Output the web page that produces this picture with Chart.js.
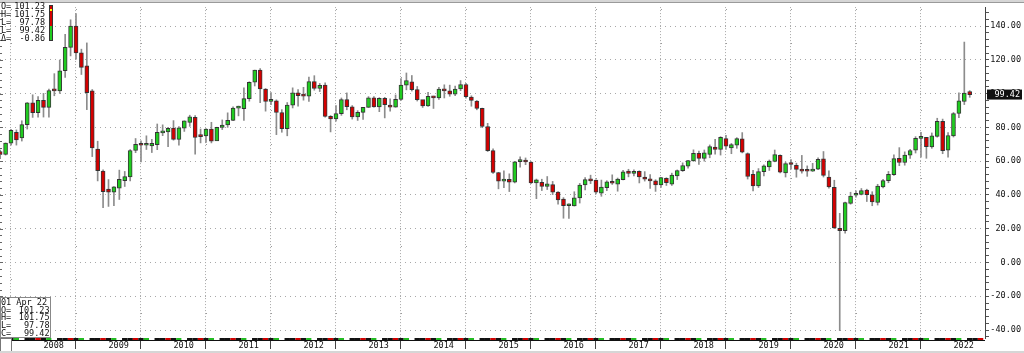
<!DOCTYPE html>
<html>
<head>
<meta charset="utf-8">
<title>Crude Oil Monthly</title>
<script src="https://cdn.jsdelivr.net/npm/chart.js@4/dist/chart.umd.min.js"></script>
<style>
    html, body { margin: 0; padding: 0; background: #fff; }
    #wrap { position: relative; width: 1024px; height: 353px; }
</style>
</head>
<body>
<div id="wrap"><canvas id="oilChart" width="1024" height="353"></canvas></div>
<script>
// monthly bars, first one is May 2007, last one Apr 2022
const startYear = 2007;
const startMonth = 4; // May (0-based)

const opens = [
    65.7, 64.0, 70.7, 77.0, 73.8, 81.6, 94.5, 88.7,
    96.0, 91.8, 102.2, 101.6, 113.5, 127.4, 140.0, 124.1, 116.5, 101.6, 67.2, 54.1,
    43.5, 41.7, 44.0, 48.5, 50.6, 66.3, 70.2, 69.4, 69.0, 69.8, 76.7, 77.3,
    79.6, 72.9, 79.5, 83.0, 86.0, 75.5, 74.9, 79.0, 72.0, 79.9, 81.4, 84.1,
    91.4, 91.0, 97.0, 106.7, 113.9, 102.7, 95.4, 95.7, 88.8, 79.2, 93.2, 100.4,
    99.5, 98.5, 107.1, 103.0, 105.0, 86.5, 85.0, 88.1, 96.5, 92.2, 86.2, 88.9,
    91.8, 97.5, 92.1, 97.2, 93.0, 92.0, 96.6, 105.0, 107.0, 102.3, 96.4, 92.7,
    98.4, 97.5, 102.6, 101.6, 99.7, 102.7, 105.4, 98.0, 95.5, 91.2, 80.5, 66.2,
    53.3, 48.2, 49.3, 47.6, 59.7, 60.3, 59.5, 47.1, 47.5, 45.1, 46.1, 41.7,
    37.5, 33.6, 33.5, 38.3, 45.9, 48.9, 48.8, 41.0, 44.3, 47.8, 46.3, 49.0,
    54.1, 52.8, 54.0, 50.6, 48.8, 48.3, 46.0, 49.8, 46.3, 51.2, 54.4, 57.0,
    60.2, 64.7, 61.6, 64.0, 68.4, 67.0, 73.3, 67.8, 69.4, 73.2, 64.5, 52.2,
    45.4, 53.8, 56.6, 59.8, 63.5, 53.1, 59.0, 57.5, 54.7, 54.3, 54.1, 55.2,
    61.4, 50.6, 44.5, 20.2, 18.8, 35.0, 39.8, 40.3, 42.8, 40.0, 35.5, 44.7,
    48.4, 52.0, 61.6, 59.2, 63.6, 66.5, 73.5, 74.1, 68.4, 74.7, 83.5, 66.5,
    75.0, 88.2, 95.3, 101.23
];
const highs = [
    66.5, 70.8, 78.8, 78.5, 83.9, 94.7, 99.3, 98.2,
    100.1, 102.6, 111.8, 119.9, 135.1, 143.7, 147.3, 126.3, 130.0, 102.4, 71.8, 54.8,
    49.1, 44.9, 54.7, 53.9, 66.9, 73.4, 72.0, 75.0, 72.9, 82.0, 81.5, 80.0,
    84.0, 80.5, 83.9, 87.2, 87.0, 79.0, 79.3, 83.0, 80.1, 84.4, 88.6, 92.1,
    92.6, 103.4, 107.0, 113.9, 114.8, 103.0, 100.6, 96.3, 90.5, 94.7, 103.4, 102.4,
    103.7, 109.8, 110.6, 106.0, 106.4, 87.0, 92.9, 97.4, 100.4, 92.9, 89.9, 91.9,
    98.2, 98.2, 97.6, 97.8, 96.9, 99.2, 108.9, 112.2, 110.7, 104.2, 96.0, 100.8,
    98.5, 103.7, 105.2, 105.0, 104.5, 107.7, 106.0, 98.7, 95.9, 91.4, 82.4, 67.3,
    53.4, 54.2, 52.5, 59.9, 62.6, 61.9, 59.8, 49.4, 49.3, 50.9, 48.0, 42.0,
    38.4, 34.7, 41.9, 46.8, 50.2, 51.7, 49.0, 48.8, 48.4, 51.9, 50.0, 54.5,
    55.2, 54.9, 54.3, 53.8, 52.0, 49.0, 50.4, 50.2, 52.9, 54.8, 59.0, 60.5,
    66.7, 66.0, 66.6, 69.6, 72.9, 74.5, 75.3, 70.5, 73.9, 76.9, 64.9, 54.5,
    55.6, 57.8, 60.7, 66.6, 63.8, 59.5, 60.9, 58.8, 63.4, 57.2, 58.7, 61.9,
    65.7, 54.3, 48.7, 29.1, 35.7, 41.6, 42.5, 43.8, 43.4, 41.9, 46.3, 49.3,
    53.9, 63.8, 68.0, 65.5, 67.0, 74.5, 77.0, 74.1, 76.7, 85.4, 84.9, 76.9,
    88.8, 100.5, 130.5, 101.75
];
const lows = [
    61.5, 63.6, 69.5, 69.5, 71.9, 79.0, 85.9, 86.0,
    86.1, 86.1, 98.7, 100.1, 109.6, 122.3, 120.4, 111.3, 90.5, 62.7, 48.3, 32.4,
    33.2, 33.6, 37.3, 45.0, 48.3, 65.0, 59.5, 66.9, 65.1, 66.8, 75.1, 68.6,
    72.4, 69.5, 77.6, 80.6, 64.2, 70.8, 71.1, 70.8, 72.6, 78.7, 80.0, 84.0,
    86.8, 84.1, 95.5, 104.5, 94.6, 89.6, 93.5, 75.7, 77.1, 75.0, 91.5, 92.5,
    96.1, 95.4, 102.0, 101.2, 86.0, 77.3, 83.6, 87.1, 90.4, 84.9, 84.1, 84.7,
    91.8, 92.0, 89.3, 85.6, 89.6, 91.9, 95.9, 102.2, 101.5, 95.6, 91.8, 92.4,
    91.2, 96.6, 97.4, 98.4, 98.7, 101.7, 97.3, 92.5, 90.4, 79.8, 65.7, 52.7,
    43.6, 44.3, 42.0, 47.1, 56.5, 57.9, 46.7, 37.8, 42.6, 43.2, 40.2, 34.5,
    26.2, 26.1, 33.4, 35.2, 43.0, 46.7, 40.6, 39.2, 42.5, 46.2, 42.2, 48.9,
    50.7, 51.2, 47.1, 48.2, 43.8, 42.1, 44.4, 45.6, 45.6, 49.1, 53.9, 55.8,
    59.9, 58.1, 60.0, 62.0, 64.2, 63.6, 67.0, 64.4, 67.6, 64.9, 49.4, 42.4,
    44.4, 51.2, 54.5, 59.6, 53.0, 50.6, 55.3, 50.5, 52.9, 51.0, 53.9, 55.0,
    50.6, 44.0, 20.1, -40.3, 17.3, 34.5, 38.7, 40.0, 36.1, 33.6, 34.0, 44.1,
    47.2, 51.6, 57.3, 57.6, 61.6, 64.8, 62.3, 61.7, 67.6, 74.2, 64.4, 62.4,
    74.3, 85.7, 93.5, 97.78
];
const closes = [
    64.0, 70.7, 78.2, 72.5, 81.6, 94.5, 88.7, 96.0,
    91.8, 101.8, 101.6, 113.5, 127.4, 140.0, 124.1, 115.5, 100.6, 67.8, 54.4, 42.0,
    41.7, 44.8, 49.3, 50.8, 66.3, 70.0, 69.4, 70.0, 70.6, 77.0, 77.3, 79.4,
    72.9, 79.7, 83.8, 86.2, 74.0, 74.5, 79.0, 71.9, 80.0, 81.4, 84.1, 91.4,
    92.2, 97.0, 106.7, 113.9, 102.7, 95.4, 95.7, 88.8, 79.2, 93.2, 100.4, 98.8,
    98.5, 107.1, 103.0, 104.9, 86.5, 85.0, 88.1, 96.5, 92.2, 86.2, 88.9, 91.8,
    97.5, 92.1, 97.2, 93.5, 92.0, 96.6, 105.0, 107.7, 102.3, 96.4, 92.7, 98.4,
    97.5, 102.6, 101.6, 99.7, 102.7, 105.4, 98.2, 96.0, 91.2, 80.5, 66.2, 53.3,
    48.2, 49.3, 47.6, 59.6, 60.3, 59.5, 47.1, 49.0, 45.1, 46.6, 41.7, 37.0,
    33.6, 33.8, 38.3, 45.9, 49.1, 48.3, 41.6, 44.7, 47.8, 46.9, 49.4, 53.7,
    52.8, 54.0, 50.6, 49.3, 48.3, 46.0, 50.2, 47.2, 51.7, 54.4, 57.4, 60.4,
    64.7, 61.6, 64.9, 68.6, 67.0, 74.1, 68.8, 69.8, 73.3, 65.3, 50.9, 45.4,
    53.8, 57.2, 60.1, 63.9, 53.5, 58.5, 58.0, 55.1, 54.1, 54.0, 55.2, 61.1,
    51.6, 44.8, 20.5, 18.8, 35.5, 39.3, 40.3, 42.6, 40.2, 35.8, 45.3, 48.5,
    52.2, 61.5, 59.2, 63.6, 66.3, 73.5, 74.0, 68.5, 75.0, 83.6, 66.2, 75.2,
    88.2, 95.7, 100.28, 99.42
];

// axis marks
const yearTicks = [8, 20, 32, 44, 56, 68, 80, 92, 104, 116, 128, 140, 152, 164, 176];
const priceTicks = [];
for (let v = -44; v <= 148; v += 4) priceTicks.push(v);
const lastClose = closes[closes.length - 1];

const monoFont = "'DejaVu Sans Mono', 'Liberation Mono', monospace";
const upColor = '#20cc20';
const downColor = '#d40000';

const bodyData = opens.map((o, i) => ({ x: i, y: [o, closes[i]] }));
const wickData = highs.map((h, i) => ({ x: i, y: [lows[i], h] }));
const bodyColors = opens.map((o, i) => closes[i] >= o ? upColor : downColor);

// extras: minor dots, bottom strip, info boxes, last price tag
const decorPlugin = {
    id: 'decor',
    beforeDatasetsDraw(chart) {
        const ctx = chart.ctx;
        const xs = chart.scales.x, ys = chart.scales.y;
        ctx.save();
        ctx.fillStyle = '#9a9a9a';
        for (let i = 2; i < 182; i += 12) {
            for (let v = -30; v <= 150; v += 20) {
                ctx.fillRect(Math.round(xs.getPixelForValue(i)), Math.round(ys.getPixelForValue(v)), 1, 1);
            }
        }
        ctx.restore();
    },
    afterDraw(chart) {
        const ctx = chart.ctx;
        const xs = chart.scales.x, ys = chart.scales.y;
        const area = chart.chartArea;
        ctx.save();

        // top band
        ctx.fillStyle = '#d6d6d6';
        ctx.fillRect(0, 0, 1024, 2);
        ctx.fillStyle = '#9a9a9a';
        ctx.fillRect(0, 2, 1024, 1);

        // left edge ticks
        ctx.fillStyle = '#666';
        priceTicks.forEach(v => {
            ctx.fillRect(0, Math.round(ys.getPixelForValue(v)), v % 20 === 0 ? 3 : 2, 1);
        });

        // striped time bar under the plot
        const strip = ['#111', '#d00000', '#111', '#22bb22', '#fff', '#111'];
        for (let i = -1; i < 182; i++) {
            const x0 = xs.getPixelForValue(i - 0.5);
            const x1 = xs.getPixelForValue(i + 0.5);
            ctx.fillStyle = strip[(i + 12) % strip.length];
            ctx.fillRect(x0, area.bottom, x1 - x0, 2);
        }
        ctx.fillStyle = '#111';
        ctx.fillRect(0, area.bottom + 2, area.right, 1);

        // top-left readout
        ctx.font = '8.5px ' + monoFont;
        ctx.fillStyle = '#111';
        ctx.textBaseline = 'middle';
        const topRows = [['O=', '101.23'], ['H=', '101.75'], ['L=', '97.78'], ['L=', '99.42'], ['\u0394=', '-0.86']];
        topRows.forEach((r, k) => {
            const y = 6.5 + k * 8;
            ctx.textAlign = 'left';
            ctx.fillText(r[0], 1, y);
            ctx.textAlign = 'right';
            ctx.fillText(r[1], 45, y);
        });
        // small candle icon
        ctx.fillStyle = downColor;
        ctx.fillRect(49.5, 5, 3, 21);
        ctx.fillStyle = upColor;
        ctx.fillRect(49.5, 26, 3, 14);
        ctx.strokeStyle = '#333';
        ctx.lineWidth = 1;
        ctx.strokeRect(49.5, 5.5, 3, 35);
        ctx.fillStyle = '#ff0';
        ctx.fillRect(50, 9, 2, 2);

        // bottom-left readout box
        ctx.fillStyle = '#fff';
        ctx.fillRect(0, 297, 51, 40);
        ctx.strokeStyle = '#888';
        ctx.strokeRect(0.5, 297.5, 50, 40);
        ctx.fillStyle = '#111';
        ctx.textAlign = 'left';
        ctx.fillText('01 Apr 22', 1, 302.5);
        const botRows = [['O=', '101.23'], ['H=', '101.75'], ['L=', '97.78'], ['C=', '99.42']];
        botRows.forEach((r, k) => {
            const y = 310.5 + k * 7.7;
            ctx.textAlign = 'left';
            ctx.fillText(r[0], 1, y);
            ctx.textAlign = 'right';
            ctx.fillText(r[1], 49.5, y);
        });
        ctx.fillStyle = '#fff';
        ctx.fillRect(0, 338, 12, 14);
        ctx.strokeStyle = '#777';
        ctx.strokeRect(0.5, 338.5, 11, 13);

        // bottom band
        ctx.fillStyle = '#d6d6d6';
        ctx.fillRect(0, 351, 1024, 2);

        // last price tag
        const yLast = ys.getPixelForValue(lastClose);
        ctx.fillStyle = '#111';
        ctx.fillRect(987, yLast - 5, 35, 10);
        ctx.fillStyle = '#fff';
        ctx.textAlign = 'right';
        ctx.fillText(lastClose.toFixed(2), 1020, yLast + 0.5);
        ctx.restore();
    }
};

new Chart(document.getElementById('oilChart'), {
    type: 'bar',
    data: {
        datasets: [
            {
                label: 'Body',
                data: bodyData,
                backgroundColor: bodyColors,
                borderColor: 'rgba(35, 35, 35, 0.9)',
                borderWidth: 1,
                borderSkipped: false,
                barThickness: 4,
                minBarLength: 2,
                grouped: false,
                order: 0
            },
            {
                label: 'Range',
                data: wickData,
                backgroundColor: '#8c8c8c',
                borderWidth: 0,
                barThickness: 1,
                grouped: false,
                order: 1
            }
        ]
    },
    options: {
        responsive: false,
        animation: false,
        layout: { padding: { top: 5, right: 3, bottom: 0, left: 0 } },
        plugins: { legend: { display: false }, tooltip: { enabled: false } },
        scales: {
            x: {
                type: 'linear',
                min: -0.03,
                max: 181.82,
                offset: false,
                afterBuildTicks: s => { s.ticks = yearTicks.map(v => ({ value: v })); },
                afterFit: s => { s.height = 15; },
                grid: { color: '#a8a8a8', lineWidth: 1, tickLength: 11, tickColor: '#444', tickBorderDash: [] },
                border: { display: false, dash: [1, 2] },
                ticks: {
                    autoSkip: false,
                    maxRotation: 0,
                    align: 'start',
                    padding: -8,
                    color: '#111',
                    font: { family: monoFont, size: 8.5 },
                    callback: v => String(startYear + Math.floor((v + startMonth) / 12))
                }
            },
            y: {
                type: 'linear',
                position: 'right',
                min: -44.7,
                max: 151.2,
                afterBuildTicks: s => { s.ticks = priceTicks.map(v => ({ value: v })); },
                afterFit: s => { s.width = 36; },
                grid: {
                    color: c => (c.tick && c.tick.value % 20 === 0) ? '#a8a8a8' : 'rgba(0,0,0,0)',
                    tickColor: '#555',
                    tickLength: 4,
                    tickBorderDash: []
                },
                border: { display: true, color: '#444', dash: [1, 4] },
                ticks: {
                    autoSkip: false,
                    crossAlign: 'far',
                    padding: 2,
                    color: '#111',
                    font: { family: monoFont, size: 8.5 },
                    callback: v => v % 20 === 0 ? v.toFixed(2) : ''
                }
            }
        }
    },
    plugins: [decorPlugin]
});
</script>
</body>
</html>
